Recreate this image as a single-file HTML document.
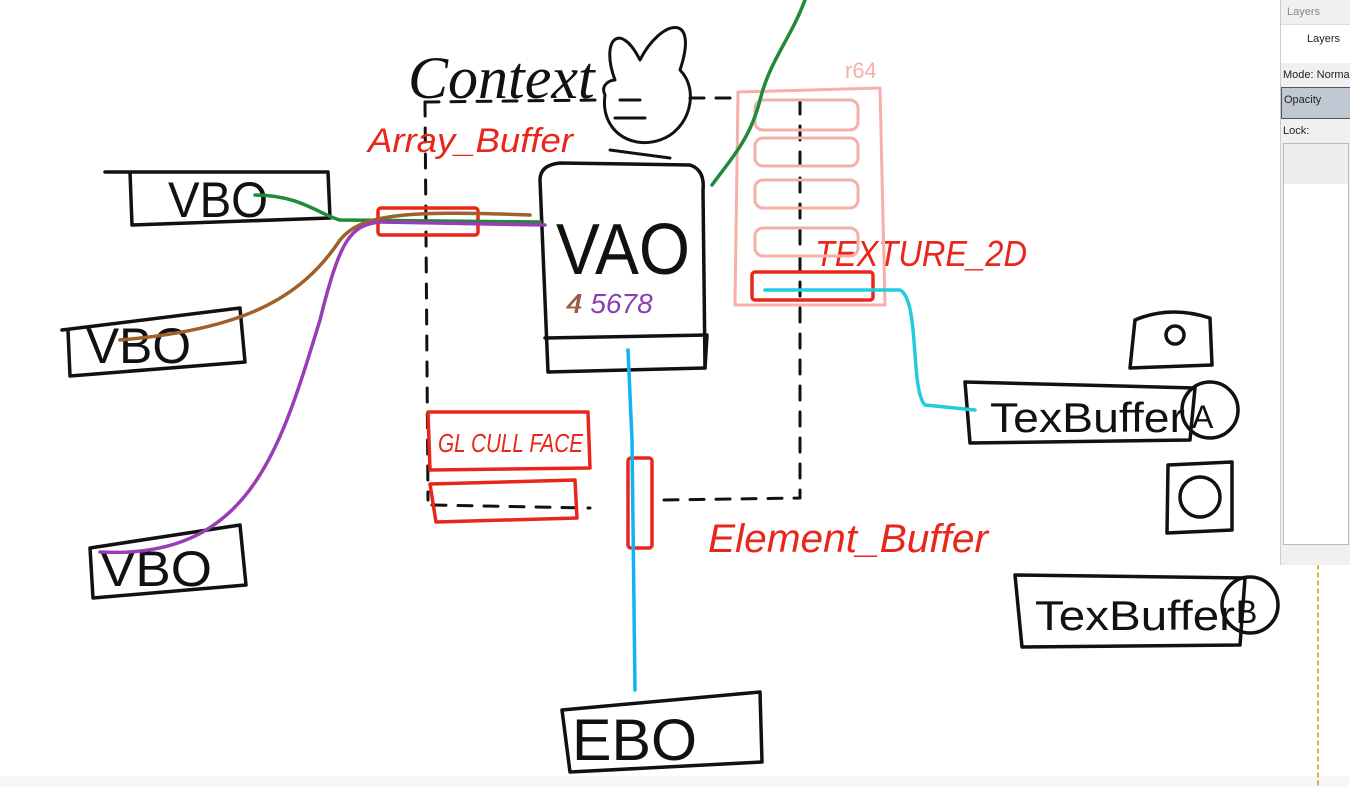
<!DOCTYPE html>
<html><head><meta charset="utf-8"><style>
body{margin:0;width:1350px;height:787px;overflow:hidden;background:#fff;font-family:"Liberation Sans",sans-serif}
svg{position:absolute;left:0;top:0}
.p{position:absolute;left:1280px;top:0;width:70px;height:565px;background:#f0f0f0;border-left:1px solid #ccc;font-size:11px;color:#222;white-space:nowrap;overflow:hidden}
</style></head><body>
<svg width="1350" height="787" viewBox="0 0 1350 787" fill="none" stroke-linecap="round" stroke-linejoin="round">
<rect x="0" y="776" width="1350" height="11" fill="#f7f7f7" stroke="none"/>
<line x1="1318" y1="565" x2="1318" y2="787" stroke="#c8a000" stroke-width="1.5" stroke-dasharray="4 4"/>
<g stroke="#111" stroke-width="3" stroke-dasharray="14 12">
<path d="M425 102 L600 100"/><path d="M425 102 L428 500"/><path d="M432 505 L590 508"/><path d="M800 100 L800 498 L662 500"/><path d="M690 98 L735 98"/>
</g>
<text x="408" y="98" font-size="60" fill="#111" font-family="Liberation Serif" font-style="italic">Context</text>
<g stroke="#111" stroke-width="3">
<path d="M615 80 C600 40 620 20 640 60 C660 20 700 10 680 70 C700 90 690 130 660 140 C630 150 600 130 605 95 C600 85 610 80 615 80"/>
<path d="M620 100 L640 100 M615 118 L645 118"/>
<path d="M610 150 L670 158"/>
</g>
<g stroke="#111" stroke-width="3.5">
<path d="M540 180 Q540 165 560 163 L690 165 Q705 170 703 190 L705 368 L548 372 L540 180"/>
<path d="M545 338 L707 335 L705 368"/>
</g>
<g lengthAdjust="spacingAndGlyphs">
<text x="556" y="274" font-size="72" fill="#111" textLength="134" lengthAdjust="spacingAndGlyphs">VAO</text>
<text x="567" y="313" font-size="28" fill="#8a3fb0" font-style="italic">4 5678</text>
<text x="566" y="313" font-size="28" fill="#a0602a" font-style="italic">4</text>
</g>
<g stroke="#111" stroke-width="3.5">
<path d="M105 172 L328 172 L330 218 L132 225 L130 172"/>
<path d="M62 330 L240 308 L245 362 L70 376 L68 330"/>
<path d="M90 548 L240 525 L246 585 L93 598 Z"/>
<path d="M562 710 L760 692 L762 762 L570 772 Z"/>
<path d="M965 382 L1195 388 L1190 440 L970 443 Z"/>
<circle cx="1210" cy="410" r="28"/>
<path d="M1015 575 L1245 578 L1240 645 L1022 647 Z"/>
<circle cx="1250" cy="605" r="28"/>
<path d="M1135 320 Q1170 305 1210 318 L1212 365 L1130 368 Z"/>
<circle cx="1175" cy="335" r="9"/>
<path d="M1168 465 L1232 462 L1232 530 L1167 533 Z"/>
<circle cx="1200" cy="497" r="20"/>
</g>
<g font-size="50" fill="#111">
<text x="168" y="217" textLength="100" lengthAdjust="spacingAndGlyphs">VBO</text>
<text x="86" y="363" textLength="105" lengthAdjust="spacingAndGlyphs">VBO</text>
<text x="100" y="586" textLength="112" lengthAdjust="spacingAndGlyphs">VBO</text>
<text x="572" y="760" font-size="58" textLength="125" lengthAdjust="spacingAndGlyphs">EBO</text>
<text x="990" y="432" font-size="42" textLength="195" lengthAdjust="spacingAndGlyphs">TexBuffer</text>
<text x="1192" y="428" font-size="32">A</text>
<text x="1035" y="630" font-size="42" textLength="200" lengthAdjust="spacingAndGlyphs">TexBuffer</text>
<text x="1236" y="623" font-size="32">B</text>
</g>
<g stroke="#e8261a" stroke-width="3.5">
<rect x="378" y="208" width="100" height="27" rx="3"/>
<path d="M428 412 L588 412 L590 468 L430 470 Z"/>
<path d="M430 484 L575 480 L577 518 L436 522 Z"/>
<rect x="628" y="458" width="24" height="90" rx="3"/>
<rect x="752" y="272" width="121" height="28" rx="3"/>
</g>
<g fill="#e8261a" font-style="italic">
<text x="368" y="152" font-size="34" textLength="205" lengthAdjust="spacingAndGlyphs">Array_Buffer</text>
<text x="438" y="452" font-size="26" textLength="145" lengthAdjust="spacingAndGlyphs">GL CULL FACE</text>
<text x="708" y="552" font-size="40" textLength="280" lengthAdjust="spacingAndGlyphs">Element_Buffer</text>
<text x="815" y="266" font-size="36" textLength="212" lengthAdjust="spacingAndGlyphs">TEXTURE_2D</text>
</g>
<g stroke="#f5b0a8" stroke-width="3">
<path d="M738 92 L880 88 L885 305 L735 305 Z"/>
<rect x="755" y="100" width="103" height="30" rx="8"/>
<rect x="755" y="138" width="103" height="28" rx="8"/>
<rect x="755" y="180" width="103" height="28" rx="8"/>
<rect x="755" y="228" width="103" height="28" rx="8"/>
</g>
<text x="845" y="78" font-size="22" fill="#f5b0a8">r64</text>
<path d="M255 195 C300 195 320 215 340 220 L540 222" stroke="#1f8a3a" stroke-width="3.5"/>
<path d="M120 340 C240 330 300 300 340 240 C360 215 400 210 530 215" stroke="#a0602a" stroke-width="3.5"/>
<path d="M100 552 C250 560 280 450 320 320 C340 240 350 225 380 222 L545 225" stroke="#9a3cb5" stroke-width="3.5"/>
<path d="M805 0 C790 40 770 60 760 100 C750 140 730 160 712 185" stroke="#1f8a3a" stroke-width="3.5"/>
<path d="M635 690 L632 440 L628 350" stroke="#10b4f0" stroke-width="3.5"/>
<path d="M975 410 L925 405 C910 390 920 300 900 290 L765 290" stroke="#22ccdd" stroke-width="3.5"/>
</svg>
<div class="p">
<div style="padding:6px 6px;color:#888">Layers</div>
<div style="background:#fff;height:30px;border-top:1px solid #ddd;padding:8px 0 0 26px">Layers</div>
<div style="padding:6px 2px">Mode: Normal</div>
<div style="background:#c0c8d4;border:1px solid #555;height:24px;padding:6px 2px 0">Opacity</div>
<div style="padding:6px 2px">Lock:</div>
<div style="background:#fff;border:1px solid #bbb;margin:0 2px;height:400px"><div style="background:#eee;height:40px"></div></div>
</div>
</body></html>
